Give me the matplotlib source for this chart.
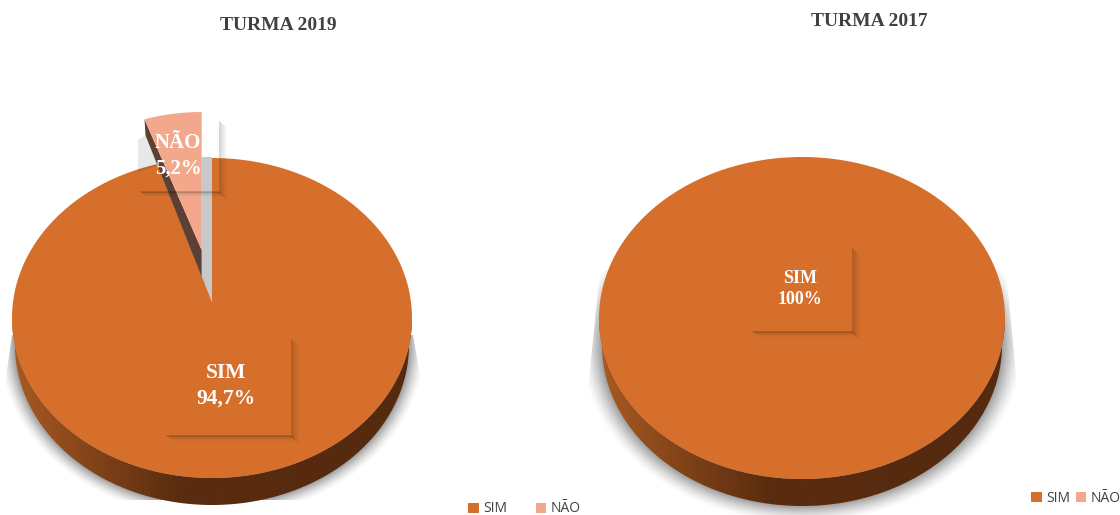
import numpy as np
import matplotlib
matplotlib.use('Agg')
import matplotlib.pyplot as plt
from matplotlib.patches import Polygon, Ellipse, Rectangle, Patch
from matplotlib.colors import LinearSegmentedColormap

# dados
categorias = ['SIM', 'NÃO']
turma_2019 = [94.7, 5.2]
turma_2017 = [100, 0]
titulos = ['TURMA 2019', 'TURMA 2017']

COR_SIM = '#D56F2B'
COR_NAO = '#F4A88B'
COR_TXT = '#404040'
SERIF = 'Liberation Serif'

fig = plt.figure(figsize=(11.2, 5.15), dpi=100)
ax = fig.add_axes([0, 0, 1, 1])
ax.set_xlim(0, 1120)
ax.set_ylim(515, 0)
ax.axis('off')

lado_cmap = LinearSegmentedColormap.from_list(
    'lado', [(0, '#A95A22'), (0.22, '#7E4118'), (0.42, '#5A2C0F'), (1, '#552A0F')])


def fatia_pts(cx, cy, rx, ry, a0, a1, n=200):
    # angulo em graus a partir do topo, sentido horario
    t = np.radians(np.linspace(a0, a1, n))
    return np.column_stack([cx + rx * np.sin(t), cy - ry * np.cos(t)])


def lateral(cx, cy, rx, ry, prof):
    # parede lateral do disco (a base e um pouco menor que o topo)
    arco = fatia_pts(cx, cy, rx, ry, 90, 270)
    base = fatia_pts(cx, cy + prof, rx - 3, ry, 270, 90)
    clip = Polygon(np.vstack([arco, base]), fc='none', ec='none')
    ax.add_patch(clip)
    im = ax.imshow(np.linspace(0, 1, 256)[None, :], cmap=lado_cmap, aspect='auto',
                   extent=[cx - rx, cx + rx, cy + ry + prof, cy], zorder=2)
    im.set_clip_path(clip)


def sombra(cx, cy, rx, ry, larg, pts):
    # sombra difusa em volta da base, cortada pelo poligono pts
    xx, yy = np.meshgrid(np.arange(0, 1120), np.arange(0, 515))
    d = (np.sqrt(((xx + 0.5 - cx) / rx) ** 2 + ((yy + 0.5 - cy) / ry) ** 2) - 1) * rx
    rgba = np.zeros(xx.shape + (4,))
    rgba[..., 3] = 0.38 * np.clip(1 - d / larg, 0, 1) ** 1.5
    clip = Polygon(pts, fc='none', ec='none')
    ax.add_patch(clip)
    im = ax.imshow(rgba, extent=[0, 1120, 515, 0], aspect='auto', zorder=1)
    im.set_clip_path(clip)


def caixa(x0, y0, w, h, z=6):
    # sombra so por fora da caixa do rotulo, mais suave
    n = 8
    for i in range(n):
        a = 0.16 * (1 - i / n)
        ax.add_patch(Rectangle((x0 + w + i, y0 + 5 + i), 1, h - 3, fc='black', ec='none', alpha=a, zorder=z, lw=0))
        ax.add_patch(Rectangle((x0 + 4 + i, y0 + h + i * 0.7), w - 4, 0.8, fc='black', ec='none', alpha=a, zorder=z, lw=0))


def rotulo(x, y, nome, valor, fs, esp):
    txt = f'{valor:.1f}'.replace('.', ',') if valor != int(valor) else str(int(valor))
    ax.text(x, y, f'{nome}\n{txt}%', color='white', fontsize=fs, fontweight='bold', family=SERIF,
            ha='center', va='center', linespacing=esp, zorder=8)


def legenda(x, y, esp):
    h = [Patch(fc=COR_SIM, ec='none'), Patch(fc=COR_NAO, ec='none')]
    return ax.legend(h, categorias, loc='center', bbox_to_anchor=(x / 1120, 1 - y / 515), ncol=2, frameon=False,
                     handlelength=0.75, handleheight=0.75, handletextpad=0.3, columnspacing=esp,
                     labelcolor=COR_TXT, prop={'family': 'Open Sans', 'size': 10})


# TURMA 2019
cx1, cy1, rx1, ry1, prof1 = 212, 318, 200, 160, 27
ang = 360 * turma_2019[1] / sum(turma_2019)

sombra(cx1, cy1 + prof1, rx1 - 3, ry1, 17, [(12, 335), (0, 420), (0, 500), (428, 500), (428, 420), (413, 335)])
# sombra fina do recorte
ax.add_patch(Polygon([(201.7, 157), (212, 157), (212, 302), (201.7, 277)], fc='#C8C8C8', ec='none', zorder=1))
lateral(cx1, cy1, rx1, ry1, prof1)
arco = fatia_pts(cx1, cy1, rx1, ry1, -ang * 0.85, -360)
ax.add_patch(Polygon(np.vstack([[212, 302], arco]), fc=COR_SIM, ec='none', zorder=3))

# sombra da fatia dentro da caixa
ax.add_patch(Polygon([(138, 140), (146, 135), (158, 165), (138, 172)], fc='black', ec='none', alpha=0.09, zorder=4, lw=0))

# fatia destacada NAO
cxn, cyn, rxn, ryn = 201.7, 250, 178, 138
arco_n = fatia_pts(cxn, cyn, rxn, ryn, -ang, 0, 50)
ax.add_patch(Polygon([arco_n[0], arco_n[0] + [1, 16], (201.7, 277), (201.7, 250)], fc='#5C4033', ec='none', zorder=5))
ax.add_patch(Polygon(np.vstack([[cxn, cyn], arco_n]), fc=COR_NAO, ec='none', zorder=5))

caixa(136, 116, 83, 75)
caixa(162, 334, 129, 101)
rotulo(178, 156, categorias[1], turma_2019[1], 15, 1.4)
rotulo(226, 386, categorias[0], turma_2019[0], 15.5, 1.35)
ax.text(278, 25, titulos[0], color=COR_TXT, fontsize=14, fontweight='bold', family=SERIF, ha='center', va='center')
ax.add_artist(legenda(524.5, 509, 2.1))

# TURMA 2017
cx2, cy2, rx2, ry2, prof2 = 802, 318, 203, 161, 27
sombra(cx2, cy2 + prof2, rx2 - 3, ry2, 22, [(600, 270), (586, 410), (586, 515), (1019, 515), (1019, 405), (1006, 270)])
lateral(cx2, cy2, rx2, ry2, prof2)
ax.add_patch(Ellipse((cx2, cy2), 2 * rx2, 2 * ry2, fc=COR_SIM, ec='none', zorder=3))
caixa(748, 243, 104, 88)
rotulo(800, 289, categorias[0], turma_2017[0], 13, 1.35)
ax.text(869, 21, titulos[1], color=COR_TXT, fontsize=14, fontweight='bold', family=SERIF, ha='center', va='center')
legenda(1076, 498, 0.43)

ax.set_xlim(0, 1120)
ax.set_ylim(515, 0)
fig.savefig('out.png', dpi=100)
